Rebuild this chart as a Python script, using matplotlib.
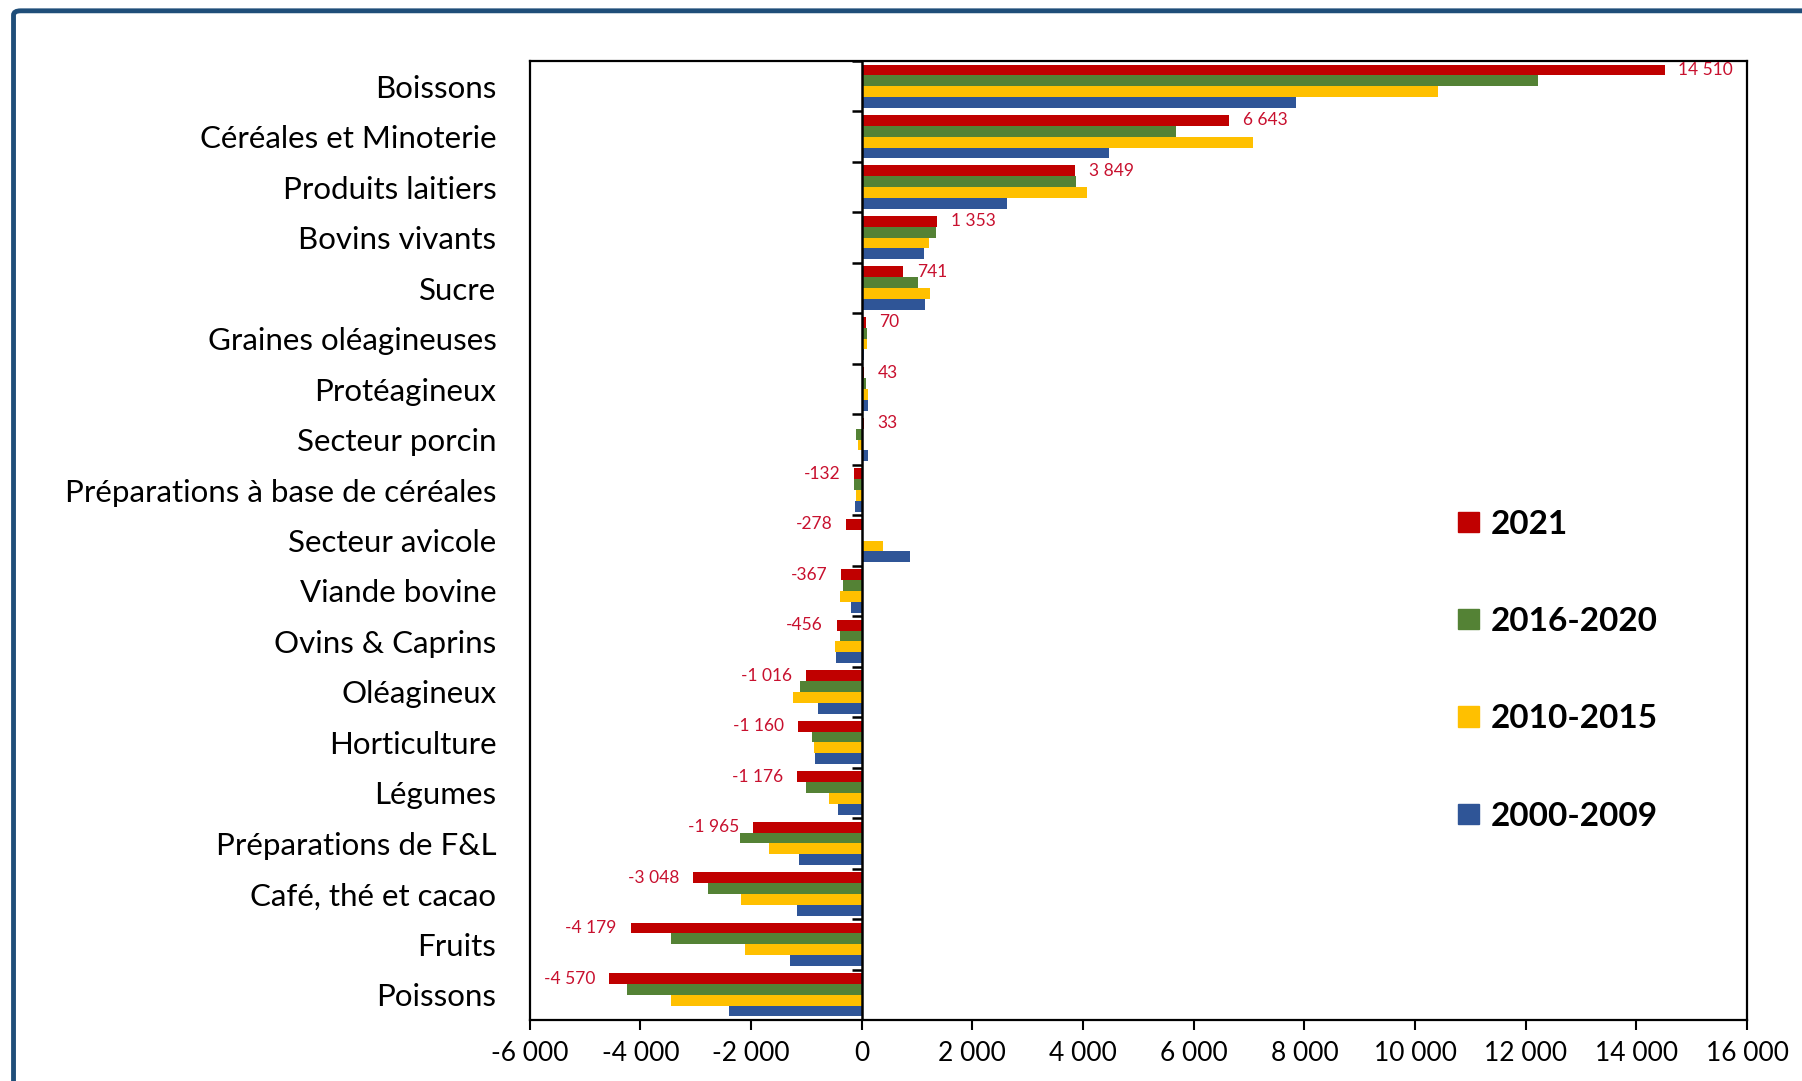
import numpy as np
import matplotlib
matplotlib.use("Agg")
import matplotlib.pyplot as plt
from matplotlib.patches import Patch, FancyBboxPatch

plt.rcParams['font.family'] = ['Lato', 'DejaVu Sans']

categories = ["Boissons", "Céréales et Minoterie", "Produits laitiers", "Bovins vivants",
              "Sucre", "Graines oléagineuses", "Protéagineux", "Secteur porcin",
              "Préparations à base de céréales", "Secteur avicole", "Viande bovine",
              "Ovins & Caprins", "Oléagineux", "Horticulture", "Légumes",
              "Préparations de F&L", "Café, thé et cacao", "Fruits", "Poissons"]

v2021 = [14510, 6643, 3849, 1353, 741, 70, 43, 33, -132, -278, -367, -456,
         -1016, -1160, -1176, -1965, -3048, -4179, -4570]
v2016_2020 = [12230, 5680, 3865, 1340, 1025, 90, 72, -96, -144, 0, -335, -400,
              -1120, -905, -1000, -2208, -2787, -3440, -4244]
v2010_2015 = [10410, 7080, 4075, 1210, 1232, 90, 108, -60, -96, 386, -390, -480,
              -1245, -870, -597, -1683, -2183, -2118, -3456]
v2000_2009 = [7840, 4470, 2633, 1127, 1151, 43, 110, 110, -120, 866, -195, -465,
              -790, -845, -428, -1137, -1167, -1306, -2392]

series = [("2021", v2021, "#C00000"),
          ("2016-2020", v2016_2020, "#548235"),
          ("2010-2015", v2010_2015, "#FFC000"),
          ("2000-2009", v2000_2009, "#2F5597")]

xticks = np.arange(-6000, 16001, 2000)


def fmt(v):
    return "{:,}".format(int(v)).replace(",", " ")


fig = plt.figure(figsize=(18.02, 10.81), dpi=100)
ax = fig.add_axes([0.294, 0.0564, 0.6755, 0.8872])

y = np.arange(len(categories))
h = 0.215
for k, (name, vals, col) in enumerate(series):
    ax.barh(y + (k - 1.5) * h, vals, height=h, color=col, label=name, zorder=2)

# data labels for 2021
for yi, v in zip(y, v2021):
    yy = yi - 1.5 * h
    if v >= 0:
        ax.annotate(fmt(v), (v, yy), xytext=(10, 0), textcoords="offset points",
                    ha="left", va="center", color="#C8102E", fontsize=12.5)
    else:
        ax.annotate(fmt(v), (v, yy), xytext=(-10, 0), textcoords="offset points",
                    ha="right", va="center", color="#C8102E", fontsize=12.5)

ax.set_xlim(-6000, 16000)
ax.set_ylim(len(categories) - 0.5, -0.5)
ax.set_xticks(xticks)
ax.set_xticklabels([fmt(t) for t in xticks], fontsize=19)
ax.tick_params(axis="x", length=7, width=1.5, pad=8)
ax.set_yticks(y)
ax.set_yticklabels(categories, fontsize=22.5)
ax.tick_params(axis="y", length=0, pad=24)

for s in ax.spines.values():
    s.set_linewidth(1.6)
    s.set_color("black")

# category axis at zero with tick marks between categories
ax.axvline(0, color="black", lw=1.8, zorder=3)
ax.hlines(np.arange(len(categories)) - 0.5, -170, 0, color="black", lw=1.8, zorder=3)

handles = [Patch(color=col, label=name) for name, vals, col in series]
leg = ax.legend(handles=handles, loc="upper left", bbox_to_anchor=(0.738, 0.5635),
                frameon=False, handlelength=0.63, handleheight=0.57, handletextpad=0.35,
                labelspacing=2.05, prop={"weight": "bold", "size": 24})

# outer frame
frame = FancyBboxPatch((0.0075, -0.1), 1.2, 1.0985 - 0.0085, transform=fig.transFigure,
                       boxstyle="round,pad=0,rounding_size=0.004", fill=False,
                       edgecolor="#1F4E79", lw=3.5, clip_on=False)
fig.patches.append(frame)

fig.savefig("out.png", dpi=100)
